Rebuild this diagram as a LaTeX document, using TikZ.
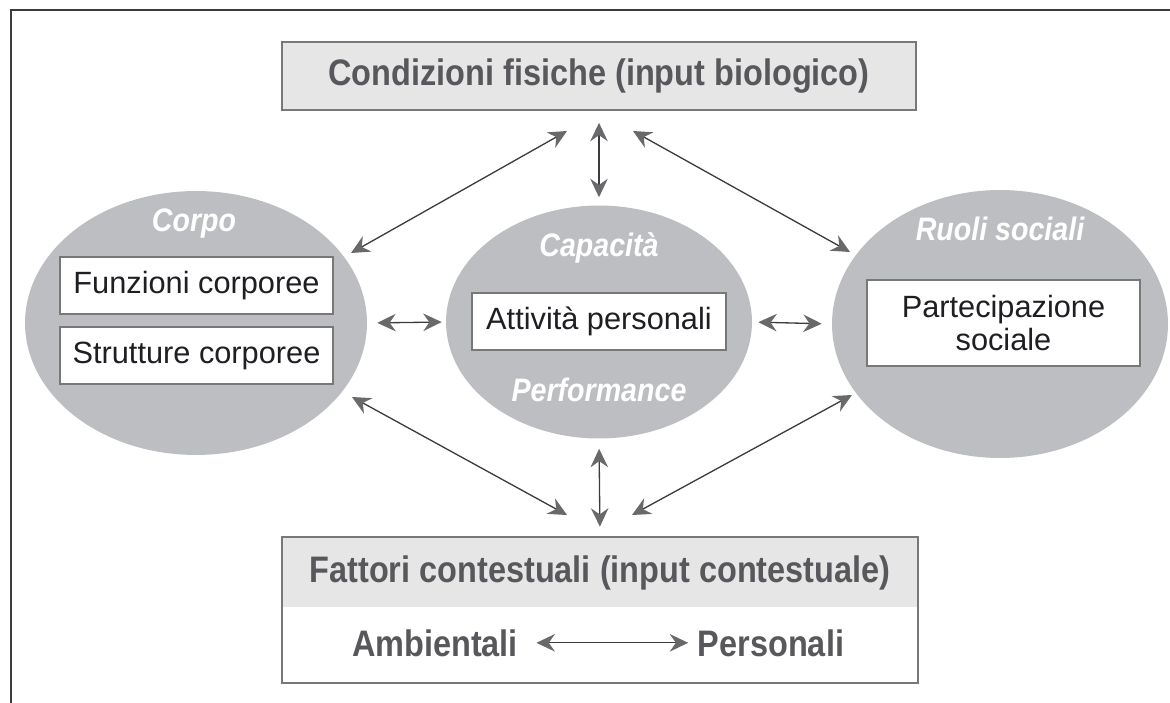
\documentclass[tikz,border=0pt]{standalone}
\usepackage{fontspec}
\setmainfont{Liberation Sans}
\newfontfamily\condfont[FakeStretch=0.88]{Liberation Sans}
\usetikzlibrary{calc}
\usetikzlibrary{arrows.meta}
\usetikzlibrary{shapes.geometric}
\usepackage{xcolor}
\definecolor{ovalgray}{RGB}{189,190,193}
\definecolor{boxgray}{RGB}{230,230,230}
\definecolor{linegray}{RGB}{120,120,120}
\definecolor{titlegray}{RGB}{88,88,92}
\definecolor{headgray}{RGB}{105,105,108}
\definecolor{arrowline}{RGB}{60,60,62}
\definecolor{txtdark}{RGB}{30,30,35}

\begin{document}
\begin{tikzpicture}[x=0.02cm, y=-0.02cm,
  oval/.style={ellipse, fill=ovalgray, inner sep=0pt},
  whitebox/.style={draw=linegray, fill=white, line width=0.8pt, text=txtdark, align=center,
    font=\fontsize{17.5}{18.5}\selectfont},
  ovallabel/.style={text=white, font=\fontsize{18.5}{20}\selectfont\condfont\bfseries\itshape},
  titletext/.style={text=titlegray, font=\fontsize{21}{24}\selectfont\condfont\bfseries},
  biarrow/.style={draw=arrowline, line width=0.75pt,
    {Stealth[length=10.5pt, width=10pt, inset=3.5pt, color=headgray]}-{Stealth[length=10.5pt, width=10pt, inset=3.5pt, color=headgray]}}]
\useasboundingbox (0,0) rectangle (1170,703);
\draw[arrowline, line width=1.6pt] (11,703) -- (11,10) -- (1170,10);

% top box
\node[draw=linegray, fill=boxgray, line width=1pt, minimum width=12.68cm, minimum height=1.36cm,
  titletext] (cond) at (599,76) {Condizioni fisiche (input biologico)};

% ellipses
\node[oval, minimum width=6.84cm, minimum height=5.28cm] (corpo) at (196,323) {};
\node[oval, minimum width=6.12cm, minimum height=4.66cm] (cap) at (599,322) {};
\node[oval, minimum width=6.72cm, minimum height=5.36cm] (ruoli) at (1000,324) {};

\node[ovallabel] (corpolab) at (194,224) {Corpo};
\node[ovallabel] (caplab) at (599,248) {Capacità};
\node[ovallabel] (perflab) at (599,390) {Performance};
\node[ovallabel] (ruolilab) at (1000,229) {Ruoli sociali};

\node[whitebox, minimum width=5.46cm, minimum height=1.14cm] (funz) at (196.5,285.5) {Funzioni corporee};
\node[whitebox, minimum width=5.46cm, minimum height=1.14cm] (strut) at (196.5,355.5) {Strutture corporee};
\node[whitebox, minimum width=5.08cm, minimum height=1.14cm] (att) at (599,321.5) {Attività personali};
\node[whitebox, minimum width=5.46cm, minimum height=1.72cm] (part) at (1003.5,323) {Partecipazione\\sociale};

% bottom box
\node[minimum width=12.72cm, minimum height=2.92cm, inner sep=0pt] (fatt) at (600,610) {};
\fill[boxgray] (fatt.north west) rectangle ($(fatt.north east)+(0,70)$);
\draw[linegray, line width=1pt] (fatt.north west) rectangle (fatt.south east);
\node[titletext] (fatttxt) at (600,573) {Fattori contestuali (input contestuale)};
\node[titletext, anchor=base] (amb) at (435,656) {Ambientali};
\node[titletext, anchor=base] (pers) at (771,656) {Personali};
\draw[biarrow, shorten <=7pt, shorten >=2pt] (amb) -- (pers);

% connectors
\coordinate (tl1) at (351,253);  \coordinate (tl2) at (567,131);
\coordinate (tr1) at (633,131);  \coordinate (tr2) at (850,252);
\coordinate (bl1) at (352,397);  \coordinate (bl2) at (567,515);
\coordinate (br1) at (852,395);  \coordinate (br2) at (632,515);
\draw[biarrow] (tl1) -- (tl2);
\draw[biarrow] (tr1) -- (tr2);
\draw[biarrow] (bl1) -- (bl2);
\draw[biarrow] (br1) -- (br2);
\draw[biarrow, shorten <=0.24cm, shorten >=0.16cm] (cond.south) -- (cap.north);
\draw[biarrow, shorten <=0.2cm, shorten >=0.2cm] (cap.south) -- (fatt.north);
\draw[biarrow, shorten <=0.2cm, shorten >=0.08cm] (corpo.east) -- (cap.west);
\draw[biarrow, shorten <=0.12cm, shorten >=0.2cm] (cap.east) -- (ruoli.west);
\end{tikzpicture}
\end{document}
